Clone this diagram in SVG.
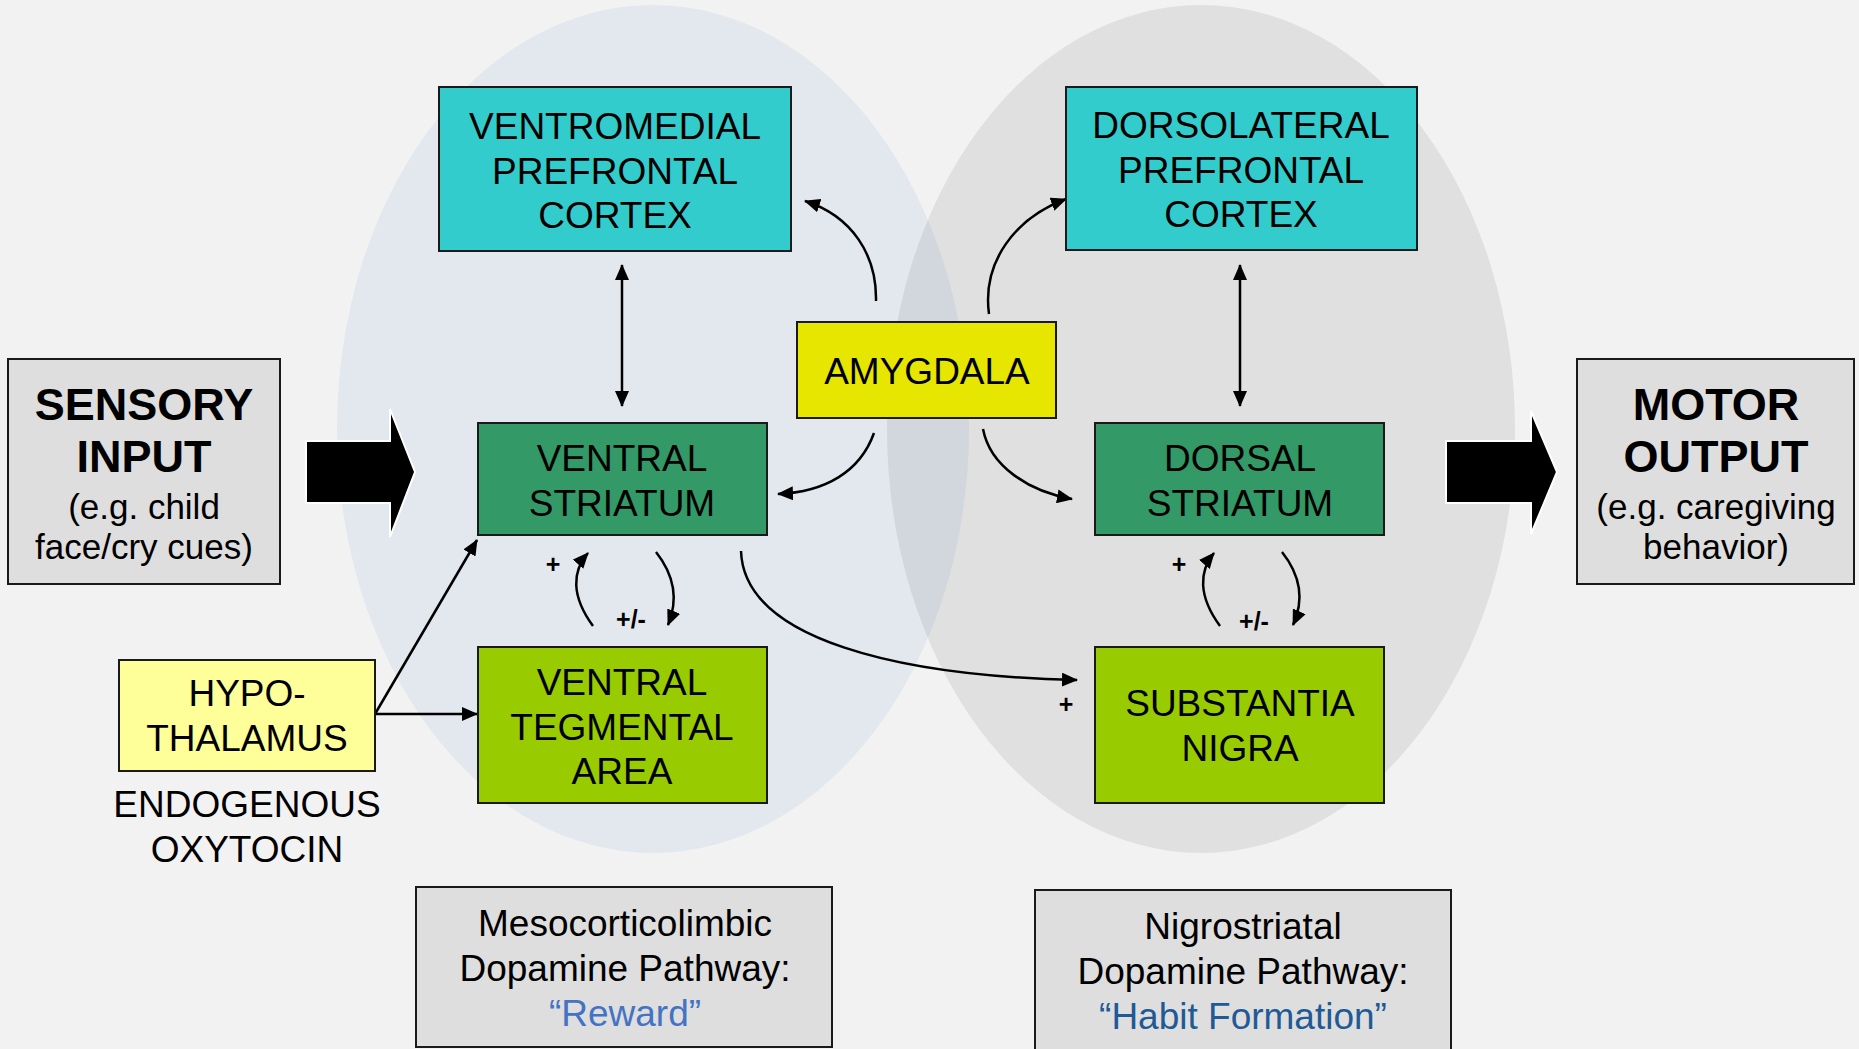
<svg xmlns="http://www.w3.org/2000/svg" width="1859" height="1049" viewBox="0 0 1859 1049">
  <defs>
    <marker id="arr" viewBox="0 0 16 14" refX="15" refY="7" markerWidth="16" markerHeight="14" markerUnits="userSpaceOnUse" orient="auto-start-reverse">
      <path d="M0,0 L16,7 L0,14 z" fill="#000"/>
    </marker>
    <style>
      text { font-family: "Liberation Sans", Arial, sans-serif; fill: #000; text-anchor: middle; }
      .box { stroke: #1a1a1a; stroke-width: 2; }
      .gray { fill: #dedede; }
      .cyan { fill: #33cccc; }
      .dgreen { fill: #339966; }
      .lgreen { fill: #99cc00; }
      .yellow { fill: #e6e600; }
      .pale { fill: #ffff99; }
      .t { font-size: 37px; }
      .big { font-size: 45px; font-weight: bold; }
      .sub { font-size: 35px; }
      .path { font-size: 37px; }
      .sign { font-size: 25px; font-weight: bold; }
      .link { fill: none; stroke: #000; stroke-width: 2.5; marker-end: url(#arr); }
      .both { marker-start: url(#arr); }
      .fat { fill: #000; stroke: #fff; stroke-width: 2; }
    </style>
  </defs>

  <!-- background and pathway regions -->
  <rect x="0" y="0" width="1859" height="1049" fill="#f2f2f2"/>
  <ellipse cx="653" cy="429" rx="316" ry="424" fill="#e3e8ef"/>
  <ellipse cx="1201" cy="429" rx="314" ry="424" fill="#000" fill-opacity="0.074"/>

  <!-- connectors -->
  <g id="connectors">
    <polygon class="fat" points="306,441 390,441 390,409 415,472 390,537 390,503 306,503"/>
    <polygon class="fat" points="1446,441 1531,441 1531,411 1557,472 1531,534 1531,503 1446,503"/>
    <path class="link both" d="M622,265 L622,406"/>
    <path class="link both" d="M1240,265 L1240,406"/>
    <path class="link" d="M876,301 C877,255 852,216 805,201"/>
    <path class="link" d="M989,314 C982,262 1015,218 1066,199"/>
    <path class="link" d="M874,433 C860,472 825,492 778,494"/>
    <path class="link" d="M983,429 C990,466 1028,491 1072,499"/>
    <path class="link" d="M375,714 L477,540"/>
    <path class="link" d="M375,714 L477,714"/>
    <path class="link" d="M741,551 C744,640 900,676 1077,680"/>
    <path class="link" d="M593,626 C571,596 572,571 588,553"/>
    <path class="link" d="M656,552 C675,576 678,601 668,625"/>
    <path class="link" d="M1220,626 C1198,596 1199,571 1214,553"/>
    <path class="link" d="M1282,552 C1301,576 1304,601 1293,625"/>
    <text class="sign" x="553" y="573">+</text>
    <text class="sign" x="631" y="628">+/-</text>
    <text class="sign" x="1179" y="573">+</text>
    <text class="sign" x="1254" y="630">+/-</text>
    <text class="sign" x="1066" y="713">+</text>
  </g>

  <g id="sensory-input">
    <rect class="box gray" x="8" y="359" width="272" height="225"/>
    <text class="big" x="144" y="420">SENSORY</text>
    <text class="big" x="144" y="472">INPUT</text>
    <text class="sub" x="144" y="519">(e.g. child</text>
    <text class="sub" x="144" y="559">face/cry cues)</text>
  </g>

  <g id="motor-output">
    <rect class="box gray" x="1577" y="359" width="277" height="225"/>
    <text class="big" x="1716" y="420">MOTOR</text>
    <text class="big" x="1716" y="472">OUTPUT</text>
    <text class="sub" x="1716" y="519">(e.g. caregiving</text>
    <text class="sub" x="1716" y="559">behavior)</text>
  </g>

  <g id="vmpfc">
    <rect class="box cyan" x="439" y="87" width="352" height="164"/>
    <text class="t" x="615" y="139">VENTROMEDIAL</text>
    <text class="t" x="615" y="184">PREFRONTAL</text>
    <text class="t" x="615" y="228">CORTEX</text>
  </g>

  <g id="dlpfc">
    <rect class="box cyan" x="1066" y="87" width="351" height="163"/>
    <text class="t" x="1241" y="138">DORSOLATERAL</text>
    <text class="t" x="1241" y="183">PREFRONTAL</text>
    <text class="t" x="1241" y="227">CORTEX</text>
  </g>

  <g id="amygdala">
    <rect class="box yellow" x="797" y="322" width="259" height="96"/>
    <text class="t" x="927" y="384">AMYGDALA</text>
  </g>

  <g id="ventral-striatum">
    <rect class="box dgreen" x="478" y="423" width="289" height="112"/>
    <text class="t" x="622" y="471">VENTRAL</text>
    <text class="t" x="622" y="516">STRIATUM</text>
  </g>

  <g id="dorsal-striatum">
    <rect class="box dgreen" x="1095" y="423" width="289" height="112"/>
    <text class="t" x="1240" y="471">DORSAL</text>
    <text class="t" x="1240" y="516">STRIATUM</text>
  </g>

  <g id="vta">
    <rect class="box lgreen" x="478" y="647" width="289" height="156"/>
    <text class="t" x="622" y="695">VENTRAL</text>
    <text class="t" x="622" y="740">TEGMENTAL</text>
    <text class="t" x="622" y="784">AREA</text>
  </g>

  <g id="substantia-nigra">
    <rect class="box lgreen" x="1095" y="647" width="289" height="156"/>
    <text class="t" x="1240" y="716">SUBSTANTIA</text>
    <text class="t" x="1240" y="761">NIGRA</text>
  </g>

  <g id="hypothalamus">
    <rect class="box pale" x="119" y="660" width="256" height="111"/>
    <text class="t" x="247" y="706">HYPO-</text>
    <text class="t" x="247" y="751">THALAMUS</text>
    <text class="t" x="247" y="817">ENDOGENOUS</text>
    <text class="t" x="247" y="862">OXYTOCIN</text>
  </g>

  <g id="mesocorticolimbic">
    <rect class="box gray" x="416" y="887" width="416" height="160"/>
    <text class="path" x="625" y="936">Mesocorticolimbic</text>
    <text class="path" x="625" y="981">Dopamine Pathway:</text>
    <text class="path" x="625" y="1026" style="fill:#4472c4">“Reward”</text>
  </g>

  <g id="nigrostriatal">
    <rect class="box gray" x="1035" y="890" width="416" height="162"/>
    <text class="path" x="1243" y="939">Nigrostriatal</text>
    <text class="path" x="1243" y="984">Dopamine Pathway:</text>
    <text class="path" x="1243" y="1029" style="fill:#1f5a96">“Habit Formation”</text>
  </g>
</svg>
